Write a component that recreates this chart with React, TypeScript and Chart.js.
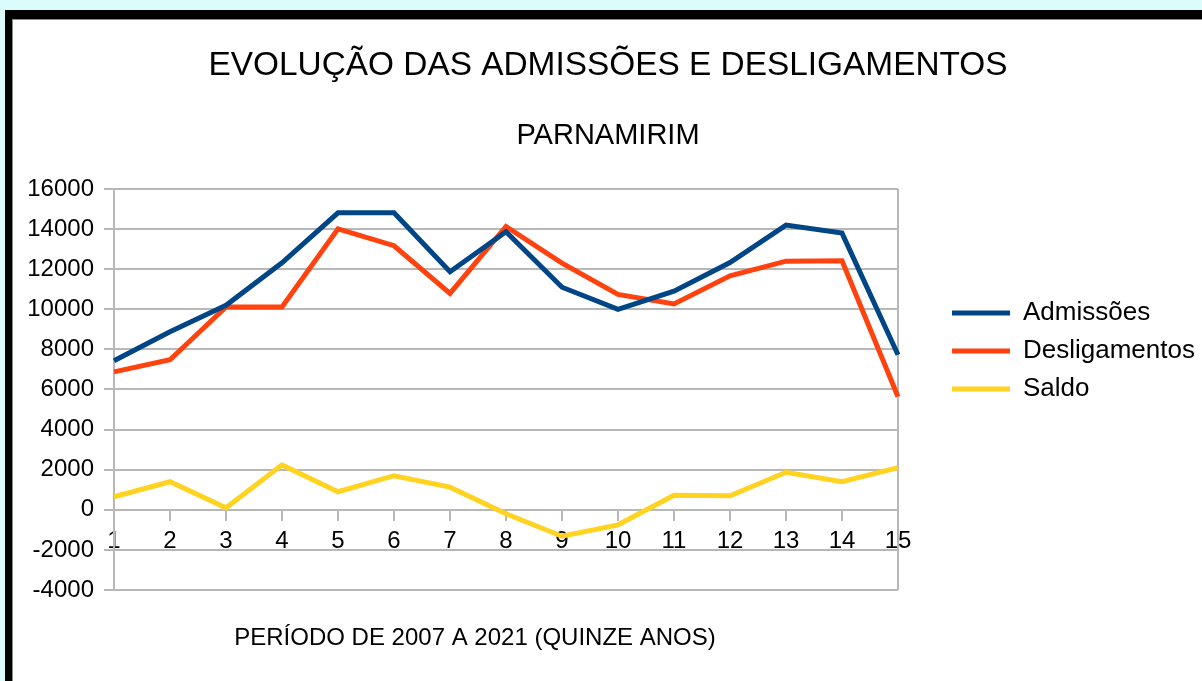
import React, { useEffect, useRef } from 'react';
import { Chart, registerables } from 'chart.js';

Chart.register(...registerables);

// ---- data ----
const categories = ['1', '2', '3', '4', '5', '6', '7', '8', '9', '10', '11', '12', '13', '14', '15'];
const admissoes = [7430, 8880, 10200, 12320, 14810, 14810, 11870, 13870, 11100, 10000, 10900, 12330, 14200, 13800, 7730];
const desligamentos = [6880, 7480, 10120, 10120, 14010, 13170, 10790, 14130, 12300, 10740, 10270, 11670, 12400, 12420, 5640];
const saldo = [650, 1400, 100, 2240, 900, 1700, 1130, -200, -1320, -750, 720, 700, 1870, 1400, 2100];

const seriesNames = ['Admissões', 'Desligamentos', 'Saldo'];
const seriesColors = ['#004586', '#ff420e', '#ffd320'];

const yMin = -4000;
const yMax = 16000;
const yStep = 2000;

const TITLE = 'EVOLUÇÃO DAS ADMISSÕES E DESLIGAMENTOS';
const SUBTITLE = 'PARNAMIRIM';
const X_TITLE = 'PERÍODO DE 2007 A 2021 (QUINZE ANOS)';

const FONT = '"Liberation Sans", Arial, sans-serif';
const GRID = '#b8b8b8';

const CANVAS_W = 1188;
const CANVAS_H = 661;
const PLOT_RIGHT = 884;
const LEGEND_FONT = 26;
const LEGEND_BOX = 58;
const LEGEND_PAD = 12;

export default function App() {
  const ref = useRef<HTMLCanvasElement | null>(null);

  useEffect(() => {
    const canvas = ref.current;
    if (!canvas) return;

    // measure the widest legend label to reserve right space exactly
    const mctx = document.createElement('canvas').getContext('2d')!;
    mctx.font = `normal ${LEGEND_FONT}px ${FONT}`;
    const maxText = Math.max(...seriesNames.map((s) => mctx.measureText(s).width));
    const legendW = LEGEND_PAD + LEGEND_BOX + LEGEND_FONT / 2 + maxText + 10;
    const padRight = Math.max(0, CANVAS_W - PLOT_RIGHT - legendW);

    const layoutPlugin = {
      id: 'layoutTweaks',
      afterLayout(chart: any) {
        // titles centred across the whole chart box
        chart.boxes.forEach((b: any) => {
          if (b.position === 'top' && b.fullSize && b !== chart.legend) {
            b.left = 0;
            b.right = chart.width;
            b.width = chart.width;
          }
        });
        const lg = chart.legend;
        if (!lg) return;
        const ca = chart.chartArea;
        const w = lg.width;
        lg.left = ca.right + 54 - LEGEND_PAD;
        lg.right = lg.left + w;
        lg.top = 268;
        lg.bottom = chart.height;
        lg.height = lg.bottom - lg.top;
      },
      afterDraw(chart: any) {
        const { ctx, chartArea } = chart;
        ctx.save();
        ctx.font = `normal 24px ${FONT}`;
        ctx.fillStyle = '#000';
        ctx.textAlign = 'center';
        ctx.textBaseline = 'middle';
        ctx.fillText(X_TITLE, chartArea.left + 361, 618);
        ctx.restore();
      },
    };

    const chart = new Chart(canvas, {
      type: 'line',
      data: {
        labels: categories,
        datasets: [admissoes, desligamentos, saldo].map((d, i) => ({
          label: seriesNames[i],
          data: d,
          borderColor: seriesColors[i],
          backgroundColor: seriesColors[i],
          borderWidth: 5,
          pointRadius: 0,
          pointHoverRadius: 0,
          tension: 0,
          fill: false,
        })),
      },
      options: {
        responsive: false,
        animation: false,
        devicePixelRatio: 1,
        layout: { padding: { left: 0, top: 0, right: padRight, bottom: 91 } },
        plugins: {
          title: {
            display: true,
            text: TITLE,
            color: '#000',
            font: { family: FONT, size: 33.4, weight: 'normal' },
            padding: { top: 26, bottom: 0 },
          },
          subtitle: {
            display: true,
            text: SUBTITLE,
            color: '#000',
            font: { family: FONT, size: 29, weight: 'normal' },
            padding: { top: 33, bottom: 35.1 },
          },
          legend: {
            display: true,
            position: 'right',
            align: 'start',
            labels: {
              color: '#000',
              font: { family: FONT, size: LEGEND_FONT },
              boxWidth: LEGEND_BOX,
              boxHeight: 5,
              padding: LEGEND_PAD,
              generateLabels: (chart: any) =>
                chart.data.datasets.map((ds: any, i: number) => ({
                  text: ds.label,
                  fillStyle: ds.borderColor,
                  strokeStyle: ds.borderColor,
                  lineWidth: 0,
                  hidden: false,
                  datasetIndex: i,
                })),
            },
          },
          tooltip: { enabled: false },
        },
        scales: {
          x: {
            type: 'category',
            position: { y: 0 } as any,
            offset: false,
            grid: {
              display: true,
              drawOnChartArea: true,
              drawTicks: true,
              tickLength: 10,
              lineWidth: 2,
              color: (c: any) => (c.index === categories.length - 1 ? GRID : 'rgba(0,0,0,0)'),
              tickColor: GRID,
            },
            border: { display: true, color: GRID, width: 2 },
            ticks: {
              color: '#000',
              font: { family: FONT, size: 24 },
              padding: 7,
              maxRotation: 0,
              autoSkip: false,
            },
          },
          y: {
            min: yMin,
            max: yMax,
            afterFit: (scale: any) => {
              scale.width = 100;
            },
            grid: {
              color: GRID,
              lineWidth: 2,
              drawTicks: true,
              tickLength: 10,
            },
            border: { display: true, color: GRID, width: 2 },
            ticks: {
              stepSize: yStep,
              color: '#000',
              font: { family: FONT, size: 24 },
              padding: 10,
              callback: (v: any) => String(v),
            },
          },
        },
      },
      plugins: [layoutPlugin],
    });

    return () => chart.destroy();
  }, []);

  return (
    <div
      style={{
        position: 'fixed',
        left: 0,
        top: 0,
        width: 1202,
        height: 681,
        background: '#dcfcfc',
        overflow: 'hidden',
      }}
    >
      <div style={{ position: 'absolute', left: 5, top: 10, width: 1300, height: 800, background: '#000' }} />
      <div style={{ position: 'absolute', left: 12, top: 19, width: 1300, height: 800, background: '#8c8c8c' }} />
      <div style={{ position: 'absolute', left: 13, top: 20, width: 1300, height: 800, background: '#fff' }} />
      <canvas
        ref={ref}
        width={CANVAS_W}
        height={CANVAS_H}
        style={{ position: 'absolute', left: 14, top: 20, width: CANVAS_W, height: CANVAS_H }}
      />
    </div>
  );
}
